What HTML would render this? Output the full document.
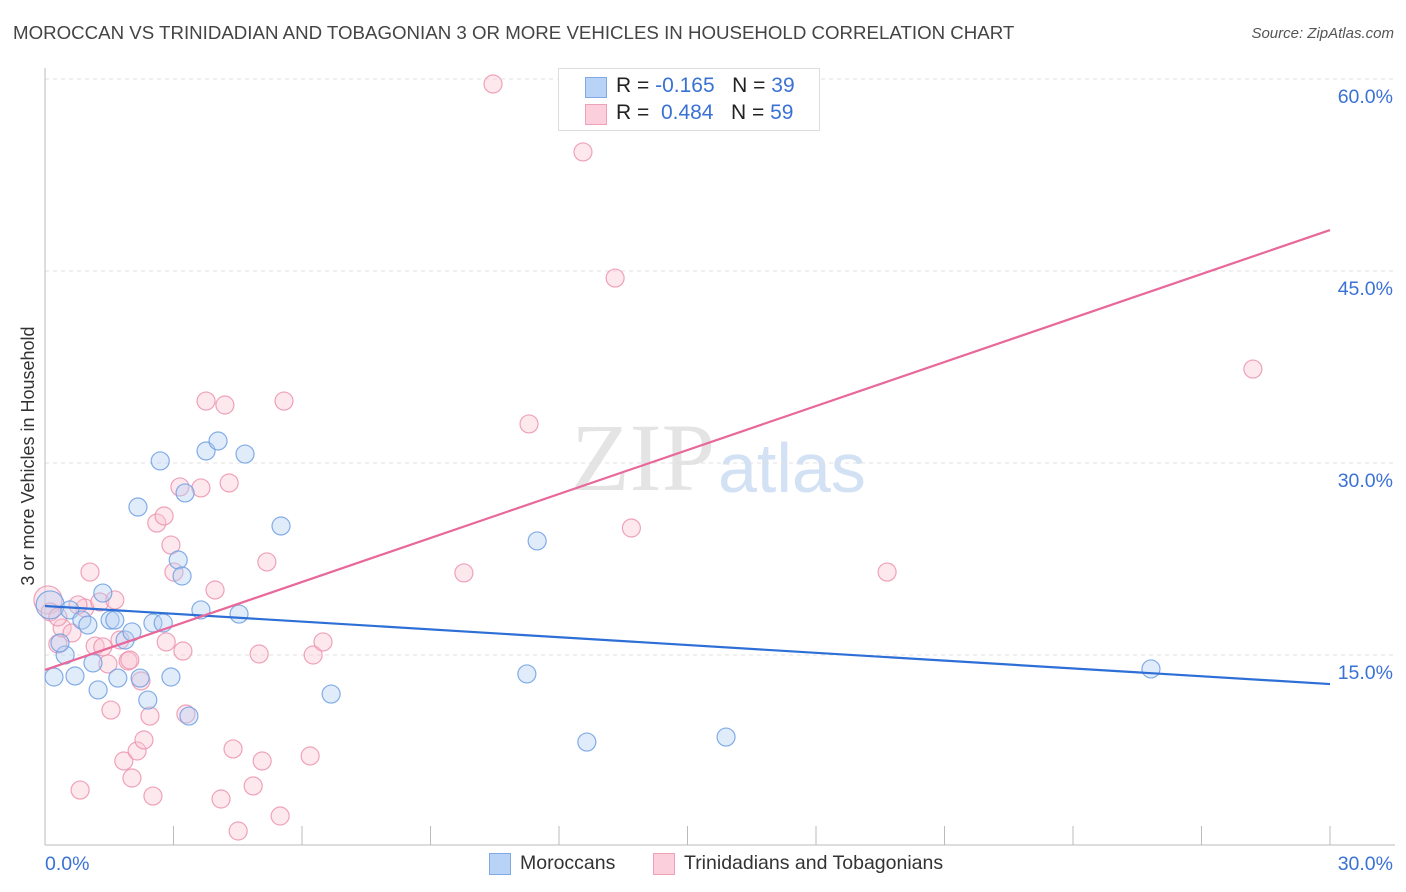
<!DOCTYPE html>
<html><head><meta charset="utf-8">
<style>
body{margin:0;background:#fff;font-family:"Liberation Sans",sans-serif;}
#wrap{position:relative;width:1406px;height:892px;overflow:hidden;}
.t{position:absolute;white-space:nowrap;}
</style></head>
<body>
<div id="wrap">
<div class="t" style="left:13px;top:22px;font-size:18.7px;color:#444;">MOROCCAN VS TRINIDADIAN AND TOBAGONIAN 3 OR MORE VEHICLES IN HOUSEHOLD CORRELATION CHART</div>
<div class="t" style="right:12px;top:25px;font-size:15px;color:#555;font-style:italic;">Source: ZipAtlas.com</div>
<svg id="chart" width="1406" height="892" style="position:absolute;left:0;top:0">
<text x="715" y="490" text-anchor="end" font-family="Liberation Serif" font-size="96" fill="#e4e4e4">ZIP</text>
<text x="718" y="492" font-family="Liberation Sans" font-size="70" fill="#d3e1f4">atlas</text>
<text transform="translate(34,456) rotate(-90)" text-anchor="middle" font-size="18" fill="#333">3 or more Vehicles in Household</text>
</svg>
<div style="position:absolute;left:558px;top:68px;width:260px;height:61px;border:1px solid #ddd;background:#fff;">
 <div style="position:absolute;left:26px;top:8px;width:20px;height:19px;background:#b8d3f5;border:1px solid #7fa9e6;"></div>
 <div class="t" style="left:57px;top:5px;font-size:21px;color:#222;">R = <span style="color:#3a72d4">-0.165</span>&nbsp;&nbsp;&nbsp;N = <span style="color:#3a72d4">39</span></div>
 <div style="position:absolute;left:26px;top:35px;width:20px;height:19px;background:#fbcfdb;border:1px solid #f0a0b8;"></div>
 <div class="t" style="left:57px;top:32px;font-size:21px;color:#222;">R = &nbsp;<span style="color:#3a72d4">0.484</span>&nbsp;&nbsp;&nbsp;N = <span style="color:#3a72d4">59</span></div>
</div>
<div>
 <div style="position:absolute;left:489px;top:853px;width:20px;height:20px;background:#b8d3f5;border:1px solid #7fa9e6;"></div>
 <div class="t" style="left:520px;top:852px;font-size:19.5px;color:#333;">Moroccans</div>
 <div style="position:absolute;left:653px;top:853px;width:20px;height:20px;background:#fbcfdb;border:1px solid #f0a0b8;"></div>
 <div class="t" style="left:684px;top:852px;font-size:19.5px;color:#333;">Trinidadians and Tobagonians</div>
</div>
</div>
<script>
const yTicks=[15,30,45,60];
const yTickLabels=["15.0%","30.0%","45.0%","60.0%"];
const xTicks=[0,3,6,9,12,15,18,21,24,27,30];
const xEndLabels=["0.0%","30.0%"];
const blueX=[0.12,0.21,0.58,0.70,0.47,0.35,0.86,1.00,1.12,1.24,1.35,1.52,1.63,1.70,1.87,2.03,2.22,2.40,2.52,2.69,2.76,2.94,3.11,3.20,3.27,3.36,3.64,3.76,4.04,4.53,4.67,5.51,6.68,2.17,11.25,11.49,12.65,15.90,25.82];
const blueY=[18.91,13.28,18.52,13.36,15.0,15.94,17.73,17.34,14.38,12.27,19.84,17.73,17.73,13.20,16.17,16.80,13.20,11.48,17.50,30.16,17.50,13.28,22.42,21.17,27.66,10.23,18.52,30.94,31.72,18.20,30.70,25.08,11.95,26.56,13.52,23.91,8.20,8.59,13.91];
const pinkX=[0.07,0.12,0.30,0.40,0.63,0.82,0.93,1.05,1.17,1.28,1.35,1.47,1.54,1.63,1.75,1.84,1.94,2.03,2.15,2.24,2.31,2.45,2.52,2.61,2.78,2.83,2.94,3.01,3.15,3.22,3.29,3.64,3.76,3.97,4.11,4.20,4.30,4.39,4.51,4.86,5.00,5.07,5.18,5.49,5.58,6.19,6.26,6.49,9.78,10.46,11.30,12.56,13.31,13.69,19.66,28.20,0.30,0.77,1.98];
const pinkY=[19.30,18.36,15.86,17.11,16.72,4.45,18.67,21.48,15.70,19.14,15.63,14.30,10.70,19.30,16.17,6.72,14.53,5.39,7.50,12.97,8.36,10.23,3.98,25.31,25.86,16.02,23.59,21.48,28.13,15.31,10.39,28.05,34.84,20.08,3.75,34.53,28.44,7.66,1.25,4.77,15.08,6.72,22.27,2.42,34.84,7.11,15.0,16.02,21.41,59.61,33.05,54.30,44.45,24.92,21.48,37.34,17.97,18.91,14.61];
const blueTrend=[18.83,12.73];
const pinkTrend=[13.83,48.2];

const NS="http://www.w3.org/2000/svg";
const svg=document.getElementById('chart');
const X=v=>45+v*1285/30;
const Y=v=>655-(v-15)*12.8;
function mk(tag,attrs){const e=document.createElementNS(NS,tag);for(const k in attrs)e.setAttribute(k,attrs[k]);svg.appendChild(e);return e;}
yTicks.forEach((t,i)=>{
 const g=mk('line',{x1:45,x2:1395,y1:Y(t),y2:Y(t),stroke:'#e0e0e0','stroke-dasharray':'4,4'});
 
 
 const l=mk('text',{x:1393,y:Y(t)+24,'text-anchor':'end','font-size':19.5,fill:'#3a72d4'});
 l.textContent=yTickLabels[i];
 
 
});
const ax=mk('line',{x1:45,x2:45,y1:68,y2:845,stroke:'#bbb'});


const bx=mk('line',{x1:45,x2:1395,y1:845,y2:845,stroke:'#bbb'});


xTicks.forEach(t=>{
 const k=mk('line',{x1:X(t),x2:X(t),y1:826,y2:845,stroke:'#bbb'});
 
 
});
const xl0=mk('text',{x:45,y:870,'font-size':19.5,fill:'#3a72d4'});xl0.textContent=xEndLabels[0];


const xl1=mk('text',{x:1393,y:870,'text-anchor':'end','font-size':19.5,fill:'#3a72d4'});xl1.textContent=xEndLabels[1];


function pts(xs,ys,fill,stroke,name){
 xs.forEach((x,i)=>{
  const c=mk('circle',{cx:X(x),cy:Y(ys[i]),r:i===0?14:9,fill:fill,'fill-opacity':0.4,stroke:stroke,'stroke-width':1.2,'stroke-opacity':0.85});
  
  
 });
}
pts(pinkX,pinkY,'#f9c5d4','#ec93ae','point-trinidadian');
pts(blueX,blueY,'#b3cff3','#6e9fe2','point-moroccan');
const bt=mk('line',{x1:X(0),y1:Y(blueTrend[0]),x2:X(30),y2:Y(blueTrend[1]),stroke:'#2d6fd6','stroke-width':2.2});


const pt=mk('line',{x1:X(0),y1:Y(pinkTrend[0]),x2:X(30),y2:Y(pinkTrend[1]),stroke:'#e8689a','stroke-width':2.2});


</script>
</body></html>
